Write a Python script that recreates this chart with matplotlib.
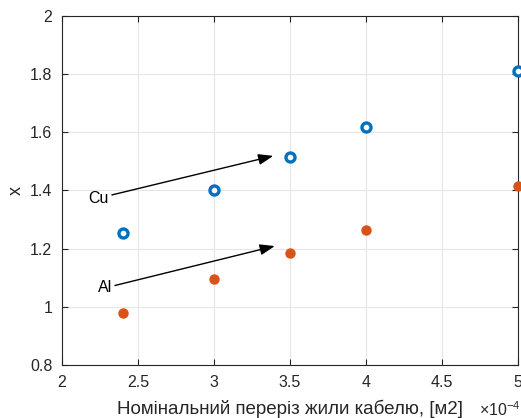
import numpy as np
import matplotlib
matplotlib.use("Agg")
import matplotlib.pyplot as plt
from matplotlib.ticker import FuncFormatter

# cross-section, m^2
section = [2.4e-4, 3.0e-4, 3.5e-4, 4.0e-4, 5.0e-4]
x_cu = [1.254, 1.402, 1.515, 1.618, 1.811]
x_al = [0.979, 1.096, 1.185, 1.264, 1.415]

CU_COLOR = "#0072BD"
AL_COLOR = "#D95319"
AXIS_COLOR = "#262626"

plt.rcParams['font.family'] = ['Liberation Sans', 'DejaVu Sans']
plt.rcParams['mathtext.fontset'] = 'custom'
plt.rcParams['mathtext.rm'] = 'Liberation Sans'
plt.rcParams['mathtext.it'] = 'Liberation Sans'

fig = plt.figure(figsize=(5.21, 4.18), dpi=100)
ax = fig.add_axes([62 / 521, 1 - 365 / 418, 456 / 521, 349 / 418])

ax.plot(section, x_cu, 'o', color=CU_COLOR, mfc='white', mec=CU_COLOR,
        ms=6.5, mew=2.4, clip_on=False, zorder=3)
ax.plot(section, x_al, 'o', color=AL_COLOR, ms=6.5, clip_on=False, zorder=3)

ax.set_xlim(2e-4, 5e-4)
ax.set_ylim(0.8, 2)
ax.set_xticks(np.arange(2e-4, 5.01e-4, 0.5e-4))
ax.set_yticks(np.arange(0.8, 2.01, 0.2))
ax.xaxis.set_major_formatter(FuncFormatter(lambda v, p: f"{v * 1e4:g}"))
ax.yaxis.set_major_formatter(FuncFormatter(lambda v, p: f"{v:g}"))

ax.grid(True, color="#e6e6e6", linewidth=0.8)
ax.set_axisbelow(True)
ax.tick_params(direction='in', top=True, right=True, length=4, width=0.8,
               colors=AXIS_COLOR, labelsize=11.5, pad=7)
for s in ax.spines.values():
    s.set_color(AXIS_COLOR)
    s.set_linewidth(0.8)

ax.set_xlabel("Номінальний переріз жили кабелю, [м2]", fontsize=13.5,
              color=AXIS_COLOR, labelpad=7)
ax.set_ylabel("x", fontsize=13, color=AXIS_COLOR, labelpad=4)
ax.text(1.0066, -0.128, r"$\times\mathregular{10^{-4}}$", transform=ax.transAxes,
        ha='right', va='center', fontsize=11.5, color=AXIS_COLOR)

arrow = dict(arrowstyle='-|>,head_length=0.6,head_width=0.22', color='black',
             lw=1.0, mutation_scale=15, shrinkA=0, shrinkB=0)
ax.annotate("Cu", xy=(3.39e-4, 1.519), xytext=(2.31e-4, 1.374),
            ha='right', va='center', fontsize=11.5, arrowprops=arrow)
ax.annotate("Al", xy=(3.40e-4, 1.209), xytext=(2.33e-4, 1.065),
            ha='right', va='center', fontsize=11.5, arrowprops=arrow)

fig.savefig("out.png", dpi=100)
